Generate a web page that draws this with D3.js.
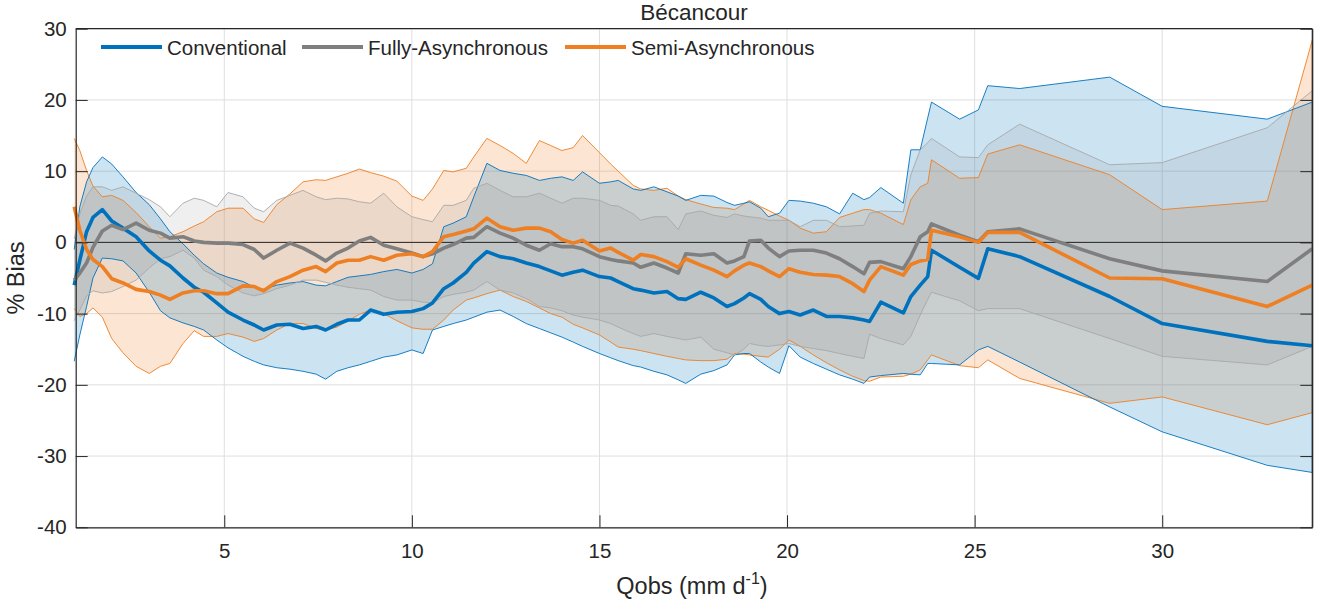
<!DOCTYPE html>
<html lang="en">
  <head>
    <meta charset="UTF-8" />
    <title>Bécancour - % Bias vs Qobs</title>
    <script src="https://d3js.org/d3.v7.min.js"></script>
    <style>
      body { margin: 0; background: #fff; }
      text { font-family: "Liberation Sans", Arial, Helvetica, sans-serif; fill: #262626; }
    </style>
  </head>
  <body>
    <svg id="chart" width="1328" height="600"></svg>

    <script>
      // Qobs (mm/d) sample points
      const qobs = [
        1.0, 1.15, 1.33, 1.5, 1.75, 2.0, 2.3, 2.65, 3.0, 3.3,
        3.55, 3.9, 4.2, 4.45, 4.8, 5.1, 5.5, 5.8, 6.05, 6.4,
        6.75, 7.1, 7.45, 7.7, 8.0, 8.3, 8.6, 8.9, 9.25, 9.6,
        10.0, 10.3, 10.55, 10.85, 11.1, 11.45, 11.65, 12.0, 12.35, 12.7,
        13.05, 13.4, 13.7, 14.0, 14.3, 14.55, 15.0, 15.3, 15.5, 15.9,
        16.1, 16.45, 16.8, 17.1, 17.3, 17.7, 18.05, 18.4, 18.6, 18.85,
        19.0, 19.3, 19.5, 19.8, 20.05, 20.35, 20.7, 21.05, 21.4, 21.75,
        22.05, 22.2, 22.5, 23.1, 23.3, 23.55, 23.75, 23.85, 24.6, 25.1,
        25.35, 26.2, 28.6, 30.0, 32.8, 34.0
      ];

      // Conventional
      const convMean = [
        -6, -2.5, 1.5, 3.5, 4.6, 3.0, 2.0, 0.8, -1.2, -2.5,
        -3.3, -5.0, -6.3, -7.0, -8.5, -9.8, -10.9, -11.6, -12.3, -11.6,
        -11.5, -12.1, -11.8, -12.3, -11.5, -10.9, -10.9, -9.5, -10.1, -9.8,
        -9.7, -9.3, -8.5, -6.5, -5.7, -4.2, -2.9, -1.3, -2.0, -2.3,
        -2.9, -3.4, -4.0, -4.6, -4.2, -3.9, -4.8, -5.0, -5.5, -6.5,
        -6.7, -7.1, -6.9, -7.9, -8.0, -7.0, -7.8, -9.0, -8.6, -7.8,
        -7.2, -8.0, -9.0, -10.0, -9.7, -10.2, -9.5, -10.4, -10.4, -10.6,
        -10.9, -11.1, -8.4, -9.9, -7.6, -6.0, -4.8, -1.1, -3.5, -5.05,
        -0.9, -2.0, -7.6, -11.4, -13.9, -14.5
      ];
      const convUpper = [
        -1, 5, 8.5, 10.5, 12.0, 11.0, 9.2, 7.0, 5.3, 3.3,
        1.5, -0.2, -1.8, -3.0, -4.3, -4.9, -5.5, -6.3, -6.6, -6.0,
        -5.7, -5.5, -6.0, -6.1, -5.5, -4.9, -4.7, -4.5, -4.1, -3.8,
        -4.3, -3.8, -3.0, 2.2, 2.7, 3.6, 6.4, 11.1, 10.1, 9.7,
        9.4, 8.7, 9.0, 9.2, 8.7, 9.9, 8.3, 8.5, 8.7, 7.5,
        7.3, 7.8, 7.1, 6.5, 5.9, 6.6, 6.5, 5.6, 5.2, 5.5,
        5.7, 4.8, 3.6, 4.1, 5.9, 5.8, 5.5, 5.0, 4.0, 6.9,
        6.0, 6.3, 7.7, 5.5, 13.0, 13.0, 17.5, 19.7, 17.3, 18.6,
        22.0, 21.6, 23.2, 19.1, 17.3, 19.7
      ];
      const convLower = [
        -16.7, -13.0, -9.0, -5.0, -2.2, -2.3, -2.6, -4.3, -7.0, -9.6,
        -10.6, -11.3, -11.8, -12.3, -13.7, -14.8, -16.0, -16.7, -17.2, -17.6,
        -17.8, -18.1, -18.5, -19.2, -18.1, -17.6, -17.2, -16.7, -16.1, -15.8,
        -15.1, -15.6, -12.3, -11.8, -11.4, -10.9, -10.5, -9.8, -9.5, -10.4,
        -11.4, -12.1, -12.7, -13.3, -14.0, -14.6, -15.6, -16.2, -16.6, -17.3,
        -17.5, -18.1, -18.6, -19.3, -19.8, -18.5, -18.0, -17.2, -15.8, -15.6,
        -15.6, -16.8, -17.5, -18.4, -14.5, -16.1, -17.0, -17.8, -18.6, -19.2,
        -19.8, -18.9, -18.7, -18.4, -18.5, -18.6, -17.0, -17.0, -17.2, -15.1,
        -14.6, -16.8, -23.1, -26.6, -31.3, -32.3
      ];

      // Fully-Asynchronous
      const fullyMean = [
        -5.3, -4.3, -2.9, -0.7, 1.6, 2.4, 1.8, 2.7, 1.7, 1.3,
        0.6, 0.8, 0.2, 0.0, -0.1, -0.1, -0.3, -1.0, -2.2, -1.1,
        -0.1, -0.8, -1.8, -2.6, -1.5, -0.8, 0.2, 0.7, -0.4, -0.9,
        -1.5, -2.0, -1.6, -0.8, -0.3, 0.6, 0.7, 2.2, 1.3, 0.6,
        -0.4, -1.1, -0.2, -0.6, -0.6, -0.9, -2.0, -2.4, -2.6, -2.9,
        -3.5, -2.9, -3.6, -4.3, -1.6, -1.8, -1.6, -2.9, -2.6, -2.0,
        0.2, 0.3, -0.8, -2.0, -1.2, -1.1, -1.1, -1.5, -2.3, -3.4,
        -4.4, -2.8, -2.7, -3.7, -2.0, 0.8, 1.5, 2.6, 1.0, 0.1,
        1.5, 1.9, -2.3, -4.0, -5.5, -0.9
      ];
      const fullyUpper = [
        0.5, 4.0, 6.5, 7.8, 7.8, 7.3, 7.8, 6.9, 6.0, 5.0,
        3.6, 5.5, 6.2, 5.9, 5.0, 7.0, 6.4, 4.8, 4.3, 5.9,
        6.6, 7.3, 6.4, 6.0, 6.2, 6.1, 5.7, 5.5, 6.9, 5.0,
        3.6, 3.2, 2.9, 5.2, 5.2, 5.9, 7.6, 8.3, 7.3, 6.4,
        6.4, 6.9, 6.2, 5.5, 6.2, 6.2, 5.9, 5.2, 5.1, 4.0,
        3.1, 3.6, 3.6, 1.8, 4.0, 4.4, 3.8, 3.5, 4.0, 3.7,
        3.6, 3.4, 3.1, 3.1, 3.1, 2.2, 3.1, 3.1, 2.2, 2.3,
        2.4, 4.1, 4.4, 4.3, 9.5, 13.0, 14.0, 14.6, 12.0, 11.9,
        13.7, 16.6, 10.9, 11.2, 16.1, 21.3
      ];
      const fullyLower = [
        -11.0, -9.5, -7.5, -6.8, -7.1, -6.9, -6.2, -5.3, -3.6, -2.3,
        -2.0, -1.1, -2.2, -3.9, -4.8, -6.0, -7.1, -7.5, -7.2, -6.5,
        -6.0, -5.3, -5.3, -5.6, -6.0, -6.3, -6.5, -6.7, -7.6, -8.1,
        -8.1, -8.4, -8.5, -7.6, -7.3, -7.0, -6.7, -5.5, -6.7, -7.1,
        -7.9, -9.0, -9.2, -9.6, -10.2, -10.5, -10.9, -11.4, -11.9, -12.8,
        -13.2, -12.8, -13.2, -13.5, -13.7, -13.3, -15.0, -15.5, -15.8, -15.0,
        -14.2, -14.5, -14.6, -14.4, -14.2, -14.6, -14.9, -15.2, -15.6, -16.0,
        -16.3, -12.9, -13.5, -14.4, -13.2, -10.2, -8.0, -7.0, -8.2, -9.6,
        -9.3, -9.3, -13.5, -16.0, -17.2, -14.6
      ];

      // Semi-Asynchronous
      const semiMean = [
        5.0, 1.7, -1.0, -2.4, -3.4, -5.1, -5.7, -6.6, -6.9, -7.4,
        -8.0, -7.1, -6.8, -6.8, -7.2, -7.2, -6.1, -6.2, -6.8, -5.5,
        -4.8, -3.9, -3.4, -4.1, -2.9, -2.5, -2.5, -2.0, -2.5, -1.8,
        -1.6, -2.0, -1.3, 0.8, 1.1, 1.6, 1.9, 3.4, 2.2, 1.7,
        2.0, 2.0, 1.5, 0.4, -0.1, 0.3, -1.2, -0.8, -1.4, -2.5,
        -1.7, -2.0, -2.7, -3.5, -2.3, -3.2, -3.9, -4.8, -4.0, -3.2,
        -2.9, -3.4, -4.0, -4.8, -3.7, -4.2, -4.5, -4.6, -4.8, -5.8,
        -6.9, -5.3, -3.4, -4.6, -3.1, -2.6, -2.4, 1.7, 0.8, 0.0,
        1.4, 1.4, -5.0, -5.1, -9.0, -6.0
      ];
      const semiUpper = [
        14.6, 12.9, 10.1, 7.9, 6.4, 6.6, 5.9, 4.2, 2.2, 0.6,
        0.8, 1.5, 2.3, 2.9, 4.3, 4.8, 4.8, 3.3, 2.8, 5.3,
        6.8, 8.5, 8.8, 8.7, 9.2, 9.7, 10.3, 9.8, 9.3, 8.6,
        6.5, 5.9, 7.5, 10.1, 9.9, 10.4, 12.0, 14.6, 13.6, 12.5,
        11.1, 14.3, 13.6, 12.9, 13.3, 15.0, 12.6, 11.0, 10.0, 8.0,
        7.5, 7.3, 7.6, 6.5, 6.0, 5.4, 4.9, 4.8, 4.6, 5.4,
        5.9, 5.0, 4.5, 3.7, 3.1, 2.0, 1.3, 1.5, 3.5, 4.1,
        4.6, 4.6, 4.1, 2.5, 6.0, 7.8, 8.3, 11.6, 9.0, 9.1,
        12.4, 13.7, 9.5, 4.6, 5.8, 28.4
      ];
      const semiLower = [
        -9.3, -10.4, -10.0, -9.2, -10.5, -13.5, -15.5, -17.4, -18.4, -17.4,
        -17.0, -14.2, -12.4, -13.2, -13.2, -12.8, -13.3, -13.9, -13.5, -12.3,
        -11.4, -11.4, -12.1, -12.3, -11.9, -11.0, -10.1, -9.5, -10.0, -11.0,
        -12.0, -12.2, -12.2, -10.9, -9.5, -8.1, -7.8, -7.2, -6.7, -7.6,
        -8.3, -9.2, -10.0, -10.5, -11.5, -12.0, -13.0, -14.0, -14.7, -15.0,
        -15.2, -15.6, -16.0, -16.3, -16.5, -16.6, -16.6, -16.4, -15.6, -15.7,
        -15.8, -16.0, -16.1, -15.0, -13.7, -14.6, -15.8, -16.9, -17.9, -18.8,
        -19.4, -19.5, -18.9, -18.8, -18.5, -17.9, -16.5, -15.8, -17.3, -17.6,
        -16.5, -19.1, -22.6, -21.7, -25.6, -23.9
      ];

      const xTicks = [5, 10, 15, 20, 25, 30];
      const yTicks = [-40, -30, -20, -10, 0, 10, 20, 30];

      const series = [
        { name: "Conventional", color: "#0072BD", edge: "#0072BD", fill: "#0072BD", alpha: 0.2, mean: convMean, upper: convUpper, lower: convLower },
        { name: "Fully-Asynchronous", color: "#7F7F7F", edge: "#A8A8A8", fill: "#808080", alpha: 0.13, mean: fullyMean, upper: fullyUpper, lower: fullyLower },
        { name: "Semi-Asynchronous", color: "#EE7F22", edge: "#EE7F22", fill: "#EE7F22", alpha: 0.2, mean: semiMean, upper: semiUpper, lower: semiLower }
      ];
      // bands are stacked semi, conventional, fully (fully on top)
      const fillOrder = [2, 0, 1];

      const svg = d3.select("#chart");
      const mLeft = 75.7, mRight = 1312.3, mTop = 28.7, mBottom = 527.3;

      const xScale = d3.scaleLinear().domain([1.04, 34.0]).range([mLeft, mRight]);
      const yScale = d3.scaleLinear().domain([-40, 30]).range([mBottom, mTop]);

      svg.append("rect").attr("width", 1328).attr("height", 600).attr("fill", "#fff");

      // grid
      const grid = svg.append("g");
      grid.selectAll(".gx").data(xTicks).enter().append("line")
        .attr("x1", (d) => xScale(d)).attr("x2", (d) => xScale(d))
        .attr("y1", mTop).attr("y2", mBottom)
        .attr("stroke", "#dfdfdf").attr("stroke-width", 1);
      grid.selectAll(".gy").data(yTicks).enter().append("line")
        .attr("x1", mLeft).attr("x2", mRight)
        .attr("y1", (d) => yScale(d)).attr("y2", (d) => yScale(d))
        .attr("stroke", "#dfdfdf").attr("stroke-width", 1);

      const idx = d3.range(qobs.length);
      const last = qobs.length - 1;

      // shaded bands with their thin edges
      fillOrder.forEach((k) => {
        const s = series[k];
        const area = d3.area()
          .x((i) => xScale(qobs[i]))
          .y0((i) => yScale(s.lower[i]))
          .y1((i) => yScale(s.upper[i]));
        svg.append("path").datum(idx)
          .attr("d", area)
          .attr("fill", s.fill)
          .attr("fill-opacity", s.alpha)
          .attr("stroke", "none");
      });

      fillOrder.forEach((k) => {
        const s = series[k];
        ["upper", "lower"].forEach((b) => {
          const edge = d3.line().x((i) => xScale(qobs[i])).y((i) => yScale(s[b][i]));
          svg.append("path").datum(idx)
            .attr("d", edge)
            .attr("fill", "none")
            .attr("stroke", s.edge)
            .attr("stroke-width", 0.9);
        });
        svg.append("line")
          .attr("x1", xScale(qobs[last])).attr("x2", xScale(qobs[last]))
          .attr("y1", yScale(s.upper[last])).attr("y2", yScale(s.lower[last]))
          .attr("stroke", s.edge).attr("stroke-width", 0.9);
      });

      // zero line
      svg.append("line")
        .attr("x1", mLeft).attr("x2", mRight)
        .attr("y1", yScale(0)).attr("y2", yScale(0))
        .attr("stroke", "#262626").attr("stroke-width", 1);

      // mean lines
      series.forEach((s) => {
        const line = d3.line().x((i) => xScale(qobs[i])).y((i) => yScale(s.mean[i]));
        svg.append("path").datum(idx)
          .attr("d", line)
          .attr("fill", "none")
          .attr("stroke", s.color)
          .attr("stroke-width", 3.6)
          .attr("stroke-linejoin", "round");
      });

      // axes (ticks point inward, plain hyphen for negatives)
      const fmt = (d) => String(d);
      const xAxis = svg.append("g")
        .attr("transform", `translate(0,${mBottom})`)
        .call(d3.axisBottom(xScale).tickValues(xTicks).tickFormat(fmt).tickSizeInner(-12).tickSizeOuter(0).tickPadding(16));
      const yAxis = svg.append("g")
        .attr("transform", `translate(${mLeft},0)`)
        .call(d3.axisLeft(yScale).tickValues(yTicks).tickFormat(fmt).tickSizeInner(-12).tickSizeOuter(0).tickPadding(9));
      svg.append("g")
        .attr("transform", `translate(${mRight},0)`)
        .call(d3.axisRight(yScale).tickValues(yTicks).tickSizeInner(-12).tickSizeOuter(0).tickFormat(""))
        .call((g) => g.selectAll("path,line").attr("stroke", "#262626"));

      [xAxis, yAxis].forEach((a) => {
        a.selectAll("path").attr("stroke", "#262626").attr("stroke-width", 1.2);
        a.selectAll("line").attr("stroke", "#262626");
        a.selectAll("text")
          .attr("font-family", '"Liberation Sans", Arial, sans-serif')
          .attr("font-size", 20.5)
          .attr("fill", "#262626");
      });

      // top and right border
      svg.append("line")
        .attr("x1", mLeft).attr("x2", mRight).attr("y1", mTop).attr("y2", mTop)
        .attr("stroke", "#262626").attr("stroke-width", 1.2);
      svg.append("line")
        .attr("x1", mRight).attr("x2", mRight).attr("y1", mTop).attr("y2", mBottom)
        .attr("stroke", "#262626").attr("stroke-width", 1.2);

      // title and labels
      svg.append("text")
        .attr("x", (mLeft + mRight) / 2).attr("y", 20)
        .attr("text-anchor", "middle").attr("font-size", 22.5)
        .text("Bécancour");

      const xl = svg.append("text")
        .attr("x", (mLeft + mRight) / 2 - 2).attr("y", 594)
        .attr("text-anchor", "middle").attr("font-size", 23.5);
      xl.append("tspan").text("Qobs (mm d");
      xl.append("tspan").attr("font-size", 16).attr("dy", -10).text("-1");
      xl.append("tspan").attr("dy", 10).text(")");

      svg.append("text")
        .attr("transform", `translate(24,${(mTop + mBottom) / 2}) rotate(-90)`)
        .attr("text-anchor", "middle").attr("font-size", 23.5)
        .text("% Bias");

      // legend
      const legendX = [101, 302, 565];
      const legend = svg.append("g").selectAll("g").data(series).enter().append("g")
        .attr("transform", (d, i) => `translate(${legendX[i]},47)`);
      legend.append("line")
        .attr("x1", 0).attr("x2", 61).attr("y1", 0).attr("y2", 0)
        .attr("stroke", (d) => d.color).attr("stroke-width", 4);
      legend.append("text")
        .attr("x", 66).attr("y", 7.5)
        .attr("font-size", 20.5)
        .text((d) => d.name);
    </script>
  </body>
</html>
